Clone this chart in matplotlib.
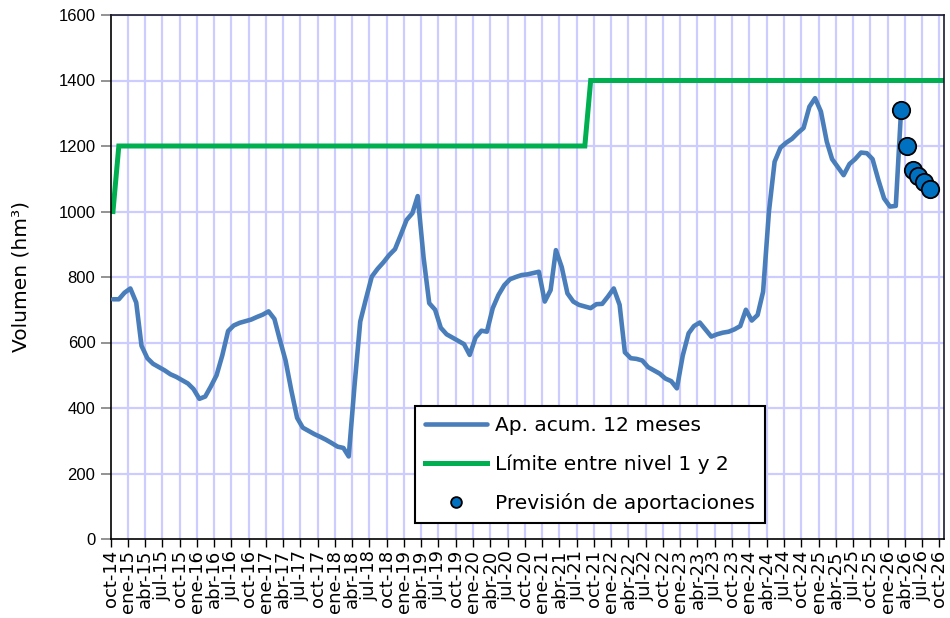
import matplotlib
matplotlib.use("Agg")
import matplotlib.pyplot as plt
import pandas as pd

# ---------------- data ----------------
start_month = "2014-10-01"
data_day_offset = 12  # monthly values are plotted mid-month

ap_acum_12 = [
    732, 732, 752, 765, 722, 590, 552, 535, 525, 515, 503, 495,   # oct-14 .. sep-15
    485, 475, 458, 428, 435, 465, 500, 560, 635, 652, 660, 665,   # oct-15 .. sep-16
    670, 678, 685, 695, 672, 610, 545, 455, 370, 340, 330, 320,   # oct-16 .. sep-17
    312, 303, 293, 282, 278, 252, 470, 664, 735, 801, 825, 845,   # oct-17 .. sep-18
    867, 885, 928, 974, 995, 1047, 860, 720, 700, 645, 625, 615,  # oct-18 .. sep-19
    605, 595, 562, 615, 636, 633, 705, 745, 775, 793, 800, 806,   # oct-19 .. sep-20
    808, 812, 816, 725, 760, 882, 830, 750, 725, 715, 710, 705,   # oct-20 .. sep-21
    717, 718, 740, 765, 715, 570, 552, 550, 545, 525, 515, 505,   # oct-21 .. sep-22
    490, 482, 460, 560, 628, 650, 661, 640, 618, 625, 630, 633,   # oct-22 .. sep-23
    640, 650, 700, 667, 684, 755, 1000, 1152, 1195, 1210, 1222, 1240,  # oct-23 .. sep-24
    1255, 1320, 1346, 1305, 1213, 1160, 1135, 1111, 1145, 1160, 1180, 1178,  # oct-24 .. sep-25
    1160, 1096, 1040, 1015, 1017, 1310,                            # oct-25 .. mar-26
]

limite = [1000] + [1200] * 82 + [1400] * 62   # oct-14 .. oct-26

prevision_start_index = 137   # mar-26
prevision = [1310, 1200, 1128, 1108, 1090, 1068]

meses_es = ["ene", "feb", "mar", "abr", "may", "jun",
            "jul", "ago", "sep", "oct", "nov", "dic"]

y_ticks = [0, 200, 400, 600, 800, 1000, 1200, 1400, 1600]

# ---------------- dates ----------------
base = pd.date_range(start_month, periods=len(limite), freq="MS")
dates_all = base + pd.Timedelta(days=data_day_offset)
dates_ap = dates_all[:len(ap_acum_12)]
dates_prev = dates_all[prevision_start_index:prevision_start_index + len(prevision)]

tick_dates = pd.date_range("2014-10-01", "2026-10-01", freq="3MS")
tick_labels = [f"{meses_es[d.month - 1]}-{d.year % 100:02d}" for d in tick_dates]

# ---------------- figure ----------------
fig = plt.figure(figsize=(9.5, 6.18), dpi=100)
ax = fig.add_axes([110.7 / 950, 1 - 539 / 618, (944 - 110.7) / 950, (539 - 15) / 618])

grid_color = "#ccccff"
for d in tick_dates[1:]:
    ax.axvline(d, color=grid_color, lw=1.6, zorder=0)
for v in y_ticks[1:]:
    ax.axhline(v, color=grid_color, lw=1.6, zorder=0)

blue = "#4a7ebb"
green = "#00b050"

l1, = ax.plot(dates_ap, ap_acum_12, color=blue, lw=3.3, solid_joinstyle="round",
              solid_capstyle="round", zorder=3, label="Ap. acum. 12 meses")
l2, = ax.plot(dates_all, limite, color=green, lw=3.6, solid_joinstyle="miter",
              zorder=2, label="Límite entre nivel 1 y 2")
l3, = ax.plot(dates_prev, prevision, ls="none", marker="o", ms=12.5,
              markerfacecolor="#0070c0", markeredgecolor="black", markeredgewidth=1.3,
              zorder=4, label="Previsión de aportaciones")

ax.set_xlim(pd.Timestamp("2014-10-01"), pd.Timestamp("2026-10-26"))
ax.set_ylim(0, 1600)

ax.set_xticks(tick_dates)
ax.set_xticklabels(tick_labels, rotation=90, fontsize=13, family="DejaVu Sans")
ax.set_yticks(y_ticks)
ax.set_yticklabels([str(v) for v in y_ticks], fontsize=12, family="Liberation Sans")

ax.tick_params(axis="x", direction="out", length=6, width=1, color="black", pad=2)
ax.tick_params(axis="y", direction="out", length=7, width=1.2, color="#808080", pad=4)

for s in ax.spines.values():
    s.set_color("black")
    s.set_linewidth(1.2)
ax.spines["top"].set_color("#1a1a33")
ax.spines["right"].set_color("#1a1a33")

ax.set_ylabel("Volumen (hm³)", fontsize=14.5, family="DejaVu Sans")
ax.yaxis.set_label_coords(-0.096, 0.5)

leg = ax.legend(handles=[l1, l2, l3], loc="lower left", bbox_to_anchor=(0.365, 0.03),
                borderaxespad=0, prop={"family": "DejaVu Sans", "size": 14.5},
                frameon=True, fancybox=False, edgecolor="black", framealpha=1,
                handlelength=3.1, handletextpad=0.4, borderpad=0.5, labelspacing=0.95,
                markerscale=0.62)
leg.get_frame().set_linewidth(1.5)

fig.savefig("out.png", dpi=100)
